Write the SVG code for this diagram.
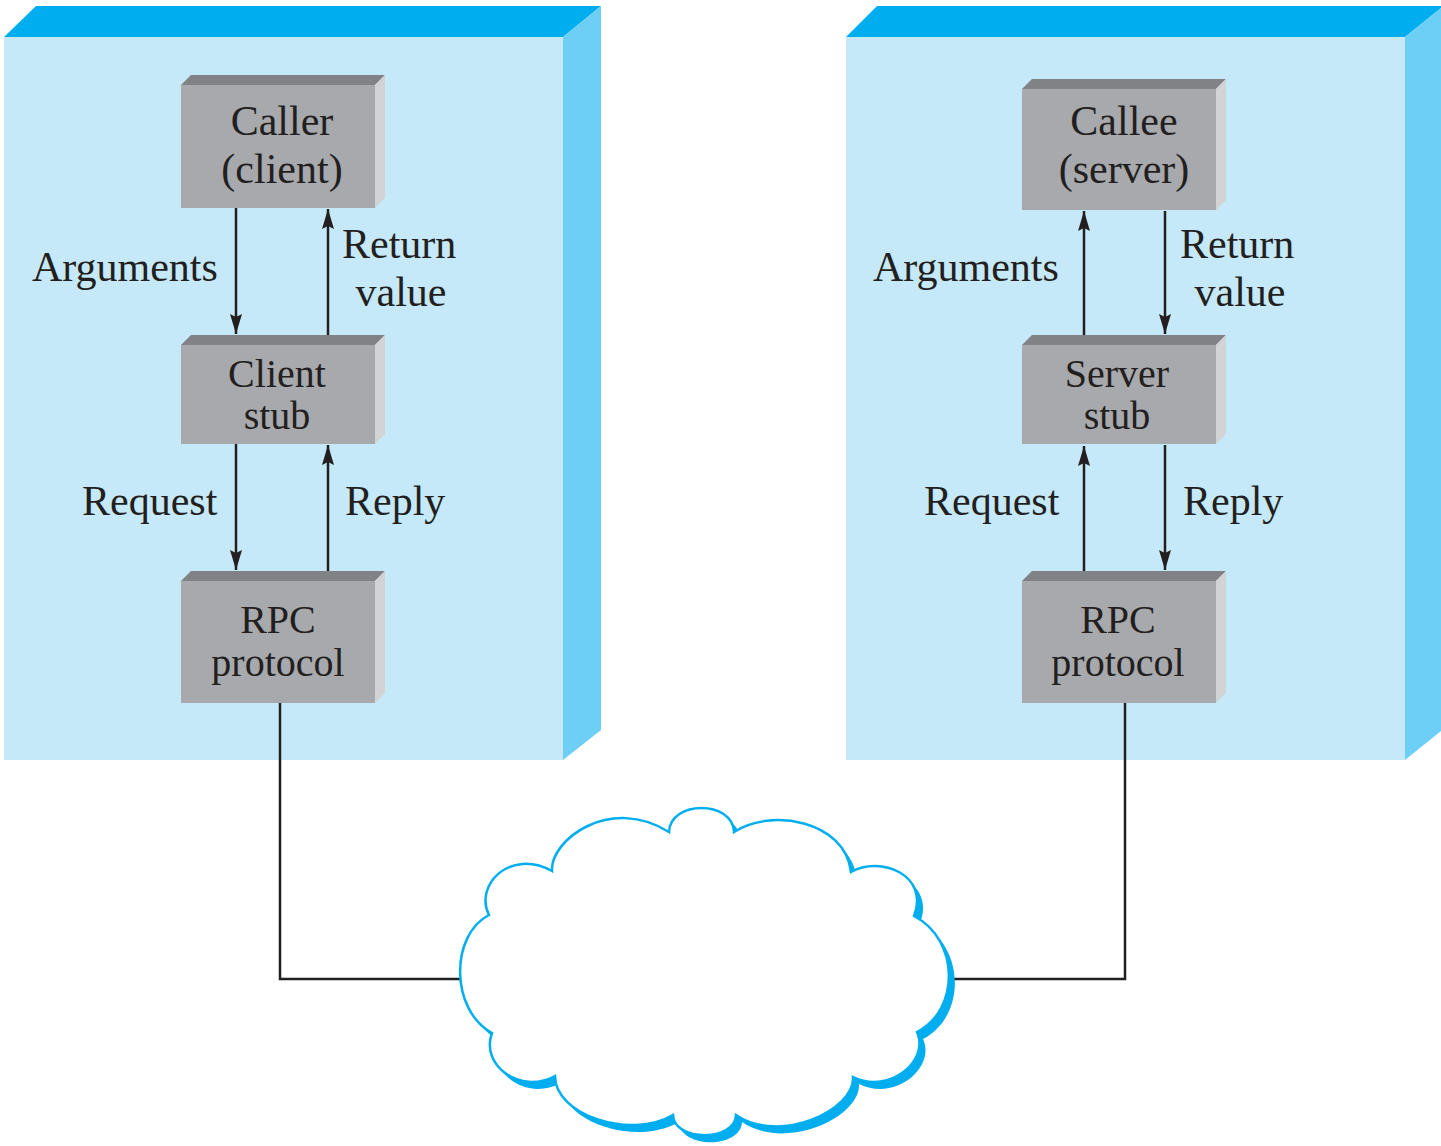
<svg xmlns="http://www.w3.org/2000/svg" width="1441" height="1146" viewBox="0 0 1441 1146">
<defs>
<style>
.front{fill:#c5e9f9}
.top{fill:#00aeef}
.side{fill:#6dcff6}
.gf{fill:#a7a9ac}
.gt{fill:#808285}
.gs{fill:#d1d3d4}
text{font-family:"Liberation Serif",serif;font-size:42px;fill:#231f20}
.c{text-anchor:middle}
.t{font-size:40px}
.ln{stroke:#231f20;stroke-width:2.5;fill:none}
</style>
<marker id="ah" viewBox="0 0 20 12" refX="20" refY="6" markerWidth="20" markerHeight="12" markerUnits="userSpaceOnUse" orient="auto">
<path d="M0,0 L20,6 L0,12 L3,6 z" fill="#231f20"/>
</marker>
<path id="cloud" d="M489,915 C474,885 510,848 552,871 C550,840 610,795 669,832 C670,800 733,800 734,832 C770,808 845,820 851,872 C880,855 930,875 914,916 C960,940 960,1010 917,1032 C930,1060 890,1095 853,1077 C855,1110 780,1145 736,1115 C735,1142 674,1142 673,1115 C630,1140 555,1115 555,1076 C520,1095 480,1065 492,1033 C450,1010 450,935 489,915 Z"/>
</defs>
<g id="left-host">
<polygon class="front" points="4,37 563,37 563,760 4,760"/>
<polygon class="top" points="4,37 36,6 601,6 563,37"/>
<polygon class="side" points="563,37 601,6 601,730 563,760"/>
</g>
<g id="right-host">
<polygon class="front" points="846,37 1405,37 1405,760 846,760"/>
<polygon class="top" points="846,37 877,6 1441,6 1441,8 1405,37"/>
<polygon class="side" points="1405,37 1441,8 1441,731 1405,760"/>
</g>
<g id="connectors">
<line class="ln" x1="236" y1="208" x2="236" y2="334" marker-end="url(#ah)"/>
<line class="ln" x1="328" y1="335" x2="328" y2="209" marker-end="url(#ah)"/>
<line class="ln" x1="236" y1="444" x2="236" y2="570" marker-end="url(#ah)"/>
<line class="ln" x1="328" y1="571" x2="328" y2="445" marker-end="url(#ah)"/>
<line class="ln" x1="1084" y1="335" x2="1084" y2="211" marker-end="url(#ah)"/>
<line class="ln" x1="1165" y1="211" x2="1165" y2="334" marker-end="url(#ah)"/>
<line class="ln" x1="1084" y1="571" x2="1084" y2="446" marker-end="url(#ah)"/>
<line class="ln" x1="1165" y1="445" x2="1165" y2="570" marker-end="url(#ah)"/>
<polyline class="ln" points="280,703 280,979 460,979"/>
<polyline class="ln" points="1125,703 1125,979 950,979"/>
</g>
<g id="caller">
<polygon class="gf" points="181,85 375,85 375,208 181,208"/>
<polygon class="gt" points="181,85 191,75 385,75 375,85"/>
<polygon class="gs" points="375,85 385,75 385,198 375,208"/>
<text class="c" x="282" y="135">Caller</text>
<text class="c" x="282" y="183">(client)</text>
</g>
<g id="client-stub">
<polygon class="gf" points="181,345 375,345 375,444 181,444"/>
<polygon class="gt" points="181,345 191,335 385,335 375,345"/>
<polygon class="gs" points="375,345 385,335 385,434 375,444"/>
<text class="c t" x="277" y="387">Client</text>
<text class="c t" x="277" y="429">stub</text>
</g>
<g id="rpc-left">
<polygon class="gf" points="181,581 375,581 375,703 181,703"/>
<polygon class="gt" points="181,581 191,571 385,571 375,581"/>
<polygon class="gs" points="375,581 385,571 385,693 375,703"/>
<text class="c t" x="278" y="633">RPC</text>
<text class="c t" x="278" y="676">protocol</text>
</g>
<g id="callee">
<polygon class="gf" points="1022,89 1216,89 1216,210 1022,210"/>
<polygon class="gt" points="1022,89 1032,79 1226,79 1216,89"/>
<polygon class="gs" points="1216,89 1226,79 1226,200 1216,210"/>
<text class="c" x="1124" y="135">Callee</text>
<text class="c" x="1124" y="183">(server)</text>
</g>
<g id="server-stub">
<polygon class="gf" points="1022,345 1216,345 1216,444 1022,444"/>
<polygon class="gt" points="1022,345 1032,335 1226,335 1216,345"/>
<polygon class="gs" points="1216,345 1226,335 1226,434 1216,444"/>
<text class="c t" x="1117" y="387">Server</text>
<text class="c t" x="1117" y="429">stub</text>
</g>
<g id="rpc-right">
<polygon class="gf" points="1022,581 1216,581 1216,703 1022,703"/>
<polygon class="gt" points="1022,581 1032,571 1226,571 1216,581"/>
<polygon class="gs" points="1216,581 1226,571 1226,693 1216,703"/>
<text class="c t" x="1118" y="633">RPC</text>
<text class="c t" x="1118" y="676">protocol</text>
</g>
<g id="labels">
<text x="32" y="281">Arguments</text>
<text x="342" y="258">Return</text>
<text class="c" x="401" y="306">value</text>
<text x="82" y="515">Request</text>
<text x="345" y="515">Reply</text>
<text x="873" y="281">Arguments</text>
<text x="1180" y="258">Return</text>
<text class="c" x="1240" y="306">value</text>
<text x="924" y="515">Request</text>
<text x="1183" y="515">Reply</text>
</g>
<g id="network">
<use href="#cloud" transform="translate(6,7)" fill="#00aeef"/>
<use href="#cloud" fill="#ffffff" stroke="#00aeef" stroke-width="2.5"/>
</g>
</svg>
